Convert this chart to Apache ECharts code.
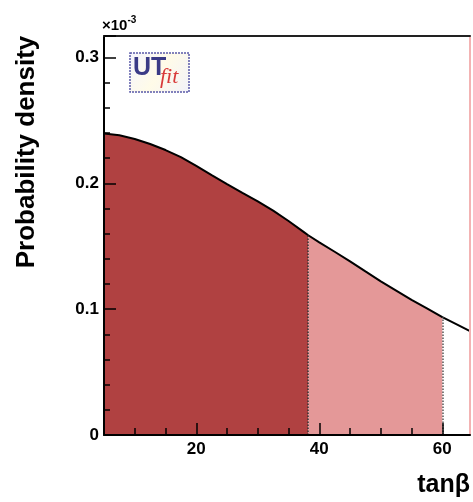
<!DOCTYPE html>
<html>
<head>
<meta charset="utf-8">
<script src="https://cdn.jsdelivr.net/npm/echarts@6/dist/echarts.min.js"></script>
<style>html,body{margin:0;padding:0;background:#fff}#c{width:473px;height:502px}</style>
</head>
<body>
<div id="c"></div>
<script>
// tan(beta) grid
var tanb = [5, 7.5, 10, 12.5, 15, 17.5, 20, 22.5, 25, 27.5, 30, 32.5, 35, 37.5, 38.2, 40, 42.5, 45, 47.5, 50, 52.5, 55, 57.5, 60, 62.5, 64.5];
// probability density (x 1e-3)
var density = [0.2396, 0.2382, 0.2352, 0.2312, 0.2264, 0.2208, 0.2138, 0.2065, 0.1993, 0.1924, 0.1856, 0.1782, 0.1700, 0.1612, 0.1587, 0.1531, 0.1456, 0.1380, 0.1300, 0.1221, 0.1147, 0.1073, 0.1006, 0.0936, 0.0875, 0.0825];
var lo68 = 38.2;   // edge of dark region
var hi95 = 60;     // edge of light region
var xMajor = [20, 40, 60];
var xMinor = [10, 15, 25, 30, 35, 45, 50, 55];
var yTicks = [0, 0.1, 0.2, 0.3];

var all = tanb.map(function (x, i) { return [x, density[i]]; });
var dark = all.filter(function (p) { return p[0] <= lo68; });
var light = all.filter(function (p) { return p[0] >= lo68 && p[0] <= hi95; });
var yAt = function (x) { return density[tanb.indexOf(x)]; };

var chart = echarts.init(document.getElementById('c'), null, {renderer: 'canvas'});
var lab = {fontFamily: 'Liberation Sans, Arial, sans-serif', fontWeight: 'bold', fontSize: 17, color: '#000'};
chart.setOption({
  animation: false,
  grid: {left: 104, top: 36, right: 1, bottom: 67},
  xAxis: [
    {type: 'value', min: 5, max: 64.5, position: 'bottom', z: 10,
     axisLine: {lineStyle: {color: '#000', width: 2}},
     axisTick: {inside: true, length: 12, customValues: xMajor, lineStyle: {color: '#000', width: 1.5}},
     axisLabel: Object.assign({customValues: xMajor, margin: 6}, lab),
     splitLine: {show: false},
     name: 'tanβ', nameLocation: 'end', nameGap: 0,
     nameTextStyle: {fontFamily: 'Liberation Sans, Arial, sans-serif', fontWeight: 'bold', fontSize: 25, color: '#000', align: 'right', verticalAlign: 'top', padding: [38, 0, 0, 0]}},
    {type: 'value', min: 5, max: 64.5, position: 'bottom', z: 10,
     axisLine: {show: false},
     axisTick: {inside: true, length: 7, customValues: xMinor, lineStyle: {color: '#000', width: 1.5}},
     axisLabel: {show: false}, splitLine: {show: false}},
    {type: 'value', min: 5, max: 64.5, position: 'top', z: 10,
     axisLine: {lineStyle: {color: '#222', width: 2}},
     axisTick: {show: false}, axisLabel: {show: false}, splitLine: {show: false}}
  ],
  yAxis: [
    {type: 'value', min: 0, max: 0.317, interval: 0.1, z: 10,
     axisLine: {show: true, lineStyle: {color: '#000', width: 2}},
     axisTick: {inside: true, length: 12, lineStyle: {color: '#000', width: 1.5}},
     minorTick: {show: true, splitNumber: 5, length: 6, lineStyle: {color: '#000', width: 1.5}},
     axisLabel: Object.assign({margin: 5, formatter: function (v) { return yTicks.indexOf(+v.toFixed(2)) >= 0 ? String(+v.toFixed(1)) : ''; }}, lab),
     splitLine: {show: false}},
    {type: 'value', min: 0, max: 0.317, position: 'right', z: 10,
     axisLine: {show: true, lineStyle: {color: '#f3b3b3', width: 2}},
     axisTick: {show: false}, axisLabel: {show: false}, splitLine: {show: false}}
  ],
  series: [
    {type: 'line', data: dark, symbol: 'none', lineStyle: {width: 0},
     areaStyle: {color: '#b04141', opacity: 1},
     markLine: {silent: true, symbol: 'none', label: {show: false},
       lineStyle: {color: '#333', type: 'dotted', width: 1.5},
       data: [[{coord: [lo68, 0]}, {coord: [lo68, yAt(lo68)]}]]}},
    {type: 'line', data: light, symbol: 'none', lineStyle: {width: 0},
     areaStyle: {color: '#e49898', opacity: 1},
     markLine: {silent: true, symbol: 'none', label: {show: false},
       lineStyle: {color: '#555', type: 'dotted', width: 1.5},
       data: [[{coord: [hi95, 0]}, {coord: [hi95, yAt(hi95)]}]]}},
    {type: 'line', data: [[hi95, 0], [64.5, 0]], symbol: 'none', z: 3,
     lineStyle: {color: '#e03030', width: 2}},
    {type: 'line', data: all, symbol: 'none', z: 4,
     lineStyle: {color: '#000', width: 2}}
  ],
  graphic: [
    {type: 'text', x: 27, y: 152, rotation: Math.PI / 2,
     style: {text: 'Probability density', font: 'bold 26px "Liberation Sans", Arial, sans-serif', fill: '#000', align: 'center', verticalAlign: 'middle'}},
    {type: 'text', x: 102, y: 33,
     style: {text: '{a|×10}{b|-3}', verticalAlign: 'bottom',
       rich: {a: {font: 'bold 15px "Liberation Sans", Arial, sans-serif', fill: '#000', verticalAlign: 'bottom'},
              b: {font: 'bold 10px "Liberation Sans", Arial, sans-serif', fill: '#000', verticalAlign: 'top', padding: [0, 0, 8, 0]}}}},
    {type: 'group', x: 130, y: 53, children: [
      {type: 'rect', shape: {x: 0, y: 0, width: 59, height: 39},
       style: {fill: new echarts.graphic.LinearGradient(0, 0, 1, 1, [{offset: 0, color: '#f4f4ff'}, {offset: 0.5, color: '#fffbe8'}, {offset: 1, color: '#f2f2fa'}]),
               stroke: '#5a5aa8', lineWidth: 1.5, lineDash: [2, 1]}},
      {type: 'text', x: 3, y: 3, style: {text: 'UT', font: 'bold 25px "Liberation Sans", Arial, sans-serif', fill: '#3a3a86'}},
      {type: 'text', x: 30, y: 13, style: {text: 'fit', font: 'italic 22px "Liberation Serif", "Times New Roman", serif', fill: '#d83a3a'}}
    ]}
  ]
});
</script>
</body>
</html>
